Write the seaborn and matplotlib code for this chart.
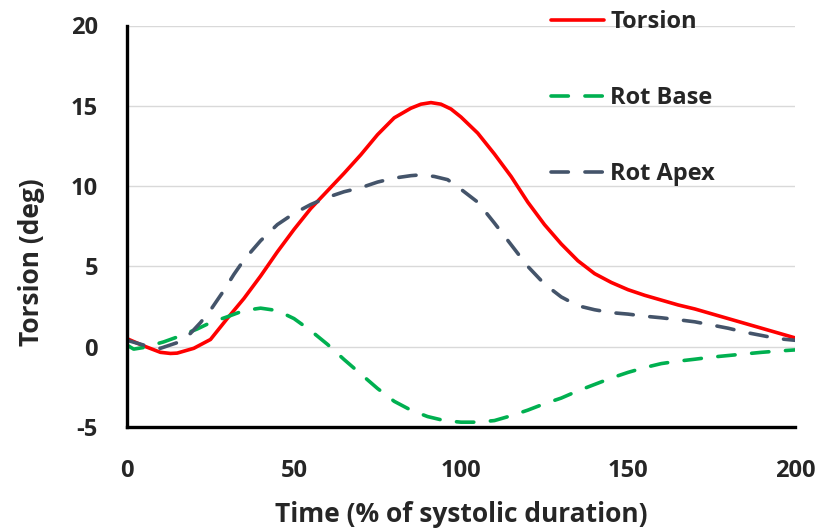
import pandas as pd
import matplotlib
matplotlib.use("Agg")
import matplotlib.pyplot as plt
import seaborn as sns

# 값은 그림에서 읽은 값 (x: 수축기 시간 %, y: deg)
torsion_x = [0, 5, 10, 13, 15, 20, 25, 30, 35, 40, 45, 50, 55, 60, 65, 70, 75, 80, 85, 88, 91, 94,
             97, 100, 105, 110, 115, 120, 125, 130, 135, 140, 145, 150, 155, 160, 165, 170, 175,
             180, 185, 190, 195, 200]
torsion_y = [0.5, 0.05, -0.35, -0.42, -0.4, -0.1, 0.45, 1.75, 3.0, 4.4, 5.9, 7.3, 8.6, 9.7, 10.8,
             11.95, 13.2, 14.25, 14.85, 15.1, 15.2, 15.1, 14.8, 14.3, 13.3, 12.0, 10.6, 9.0, 7.6,
             6.4, 5.35, 4.55, 4.0, 3.55, 3.2, 2.9, 2.6, 2.35, 2.05, 1.75, 1.45, 1.15, 0.85, 0.55]

base_x = [0, 2, 5, 11, 15, 21, 25, 30, 35, 40, 45, 50, 55, 60, 65, 70, 75, 80, 85, 90, 95, 100,
          105, 110, 115, 120, 125, 130, 135, 140, 145, 150, 155, 160, 165, 170, 175, 180, 185,
          190, 195, 200]
base_y = [0.1, -0.15, -0.05, 0.3, 0.6, 1.1, 1.5, 1.86, 2.25, 2.4, 2.25, 1.75, 1.0, 0.15, -0.8,
          -1.7, -2.6, -3.4, -3.95, -4.35, -4.6, -4.7, -4.7, -4.6, -4.3, -3.95, -3.55, -3.2,
          -2.75, -2.35, -1.95, -1.6, -1.3, -1.05, -0.9, -0.78, -0.65, -0.55, -0.45, -0.35,
          -0.27, -0.2]

apex_x = [0, 5, 10, 15, 19, 22, 25, 29, 32, 35, 40, 45, 50, 55, 60, 65, 70, 75, 80, 85, 88, 92,
          96, 100, 105, 110, 115, 120, 125, 130, 135, 140, 145, 150, 155, 160, 165, 170, 175,
          180, 185, 190, 195, 200]
apex_y = [0.4, 0.1, -0.1, 0.25, 0.83, 1.5, 2.28, 3.5, 4.5, 5.4, 6.6, 7.6, 8.3, 8.85, 9.3, 9.65,
          9.9, 10.25, 10.5, 10.65, 10.7, 10.6, 10.4, 9.8, 9.0, 7.7, 6.35, 5.0, 3.9, 3.1, 2.55,
          2.3, 2.12, 2.03, 1.9, 1.8, 1.68, 1.55, 1.35, 1.15, 0.9, 0.7, 0.5, 0.4]

series_names = ['Torsion', 'Rot Base', 'Rot Apex']
series_colors = {'Torsion': '#FF0000', 'Rot Base': '#00B050', 'Rot Apex': '#44546A'}
series_dashes = {'Torsion': '', 'Rot Base': (4.8, 4.6), 'Rot Apex': (4.8, 4.6)}

y_ticks = [-5, 0, 5, 10, 15, 20]
x_ticks = [0, 50, 100, 150, 200]

df = pd.concat([
    pd.DataFrame({'time': torsion_x, 'value': torsion_y, 'series': 'Torsion'}),
    pd.DataFrame({'time': base_x, 'value': base_y, 'series': 'Rot Base'}),
    pd.DataFrame({'time': apex_x, 'value': apex_y, 'series': 'Rot Apex'}),
], ignore_index=True)

sns.set_style('white')
plt.rcParams['font.family'] = ['Open Sans', 'DejaVu Sans']
plt.rcParams['font.weight'] = 'bold'
plt.rcParams['axes.unicode_minus'] = False

fig = plt.figure(figsize=(8.2, 5.32), dpi=100)
ax = fig.add_axes([127 / 820, 1 - 427 / 532, 668 / 820, 401.5 / 532])

sns.lineplot(data=df, x='time', y='value', hue='series', style='series',
             hue_order=series_names, style_order=series_names,
             palette=series_colors, dashes=series_dashes,
             estimator=None, sort=False, linewidth=2.6,
             dash_capstyle='round', solid_joinstyle='round', ax=ax)

ax.set_xlim(0, 200)
ax.set_ylim(-5, 20)
ax.set_xticks(x_ticks)
ax.set_yticks(y_ticks)
ax.yaxis.grid(True, color='#D9D9D9', linewidth=1.0)
ax.set_axisbelow(True)

for side in ['top', 'right']:
    ax.spines[side].set_visible(False)
for side in ['left', 'bottom']:
    ax.spines[side].set_color('black')
    ax.spines[side].set_linewidth(2.4)

ax.tick_params(axis='both', direction='out', length=7, width=2.4, color='black',
               labelsize=17)
ax.tick_params(axis='x', pad=16)
ax.tick_params(axis='y', pad=14)
for lab in ax.get_xticklabels() + ax.get_yticklabels():
    lab.set_fontweight('bold')

ax.set_xlabel('Time (% of systolic duration)', fontsize=19, fontweight='bold')
ax.set_ylabel('Torsion (deg)', fontsize=19, fontweight='bold')
ax.xaxis.set_label_coords(0.5, -74 / 402)
ax.yaxis.set_label_coords(-82 / 668, 165 / 402)

handles, labels = ax.get_legend_handles_labels()
for h in handles:
    h.set_linewidth(2.6)
    h.set_dash_capstyle('round')
ax.legend(handles, labels, loc='upper left', bbox_to_anchor=(551 / 820, 1 - 10 / 532),
          bbox_transform=fig.transFigure, frameon=False,
          handlelength=2.25, handletextpad=0.25, labelspacing=2.2,
          borderpad=0, borderaxespad=0, prop={'weight': 'bold', 'size': 17})

fig.savefig('out.png', dpi=100)
